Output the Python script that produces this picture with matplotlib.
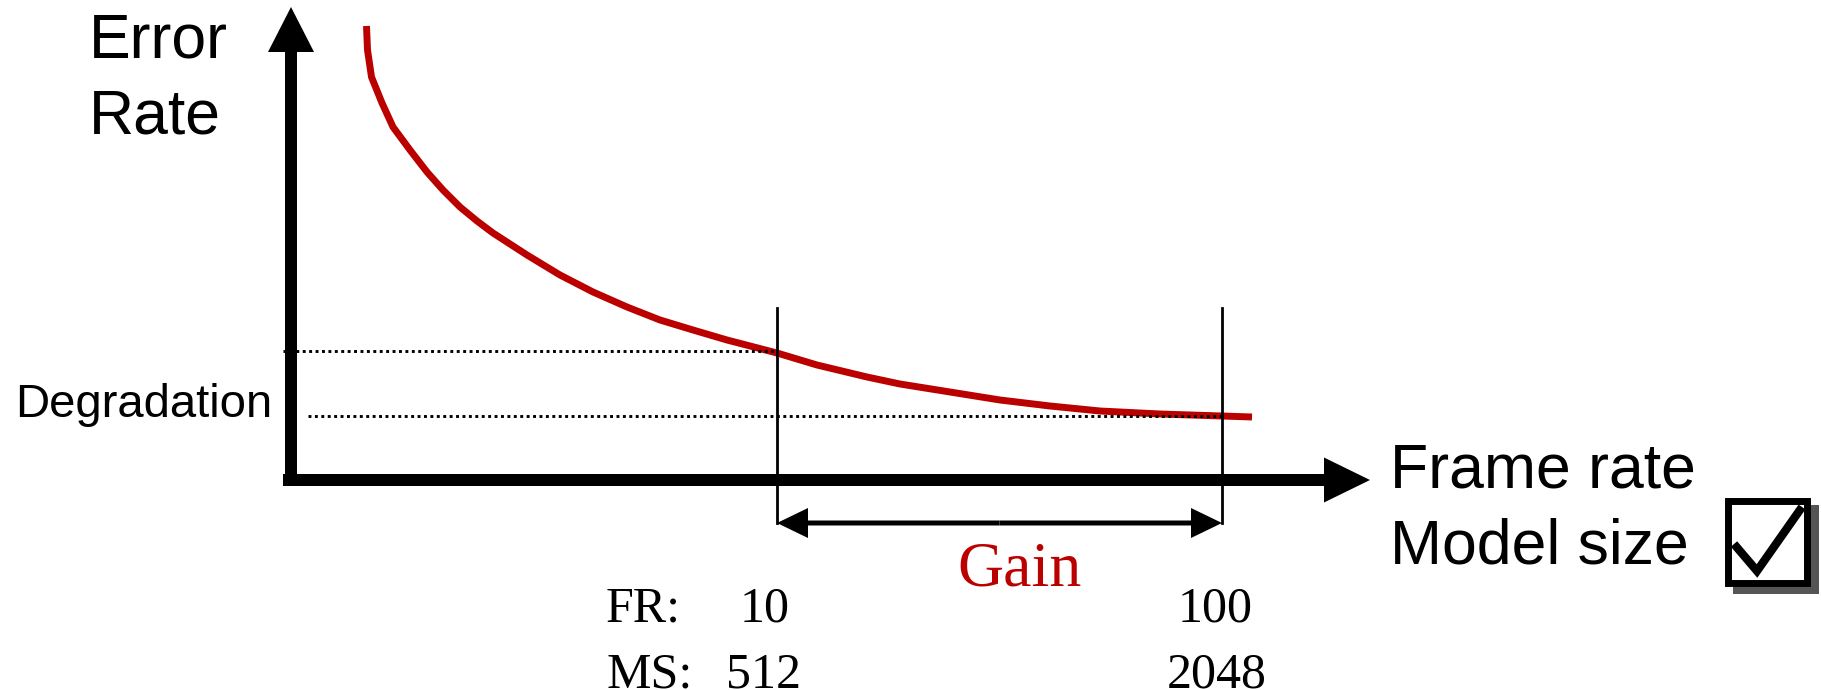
"""
Error rate vs. frame rate / model size trade-off sketch.
Redraws the slide diagram: decaying error curve, two operating points,
the degradation band between them and the gain along the x axis.
"""

import matplotlib
matplotlib.use("Agg")
import matplotlib.pyplot as plt
from matplotlib.patches import FancyArrow, Rectangle

# ---- data (arbitrary units, origin at the axes corner) ----
curve_x = [0.755, 0.765, 0.805, 0.91, 1.02, 1.19, 1.36, 1.52, 1.69, 1.86,
           2.02, 2.36, 2.69, 3.02, 3.36, 3.69, 4.02, 4.36, 4.86, 5.26,
           5.76, 6.09, 6.59, 7.09, 7.59, 8.09, 8.69, 9.31, 9.61]
curve_y = [4.54, 4.30, 4.03, 3.77, 3.53, 3.30, 3.08, 2.90, 2.73, 2.59,
           2.47, 2.25, 2.05, 1.88, 1.73, 1.60, 1.50, 1.40, 1.27, 1.15,
           1.03, 0.96, 0.88, 0.80, 0.74, 0.69, 0.66, 0.64, 0.63]

op_x = [4.86, 9.31]          # the two operating points (low / high setting)
op_err = [1.29, 0.64]        # error rate at those points
dot_start = [-0.08, 0.17]    # where the dotted guide lines begin

fr_labels = ["10", "100"]
ms_labels = ["512", "2048"]

RED = "#BB0000"
SANS = "Liberation Sans"
SERIF = "Liberation Serif"

fig = plt.figure(figsize=(18.21, 6.90), dpi=100)
ax = fig.add_axes([0, 0, 1, 1])
ax.set_xlim(-2.91, 15.30)
ax.set_ylim(-2.10, 4.80)
ax.axis("off")

# axes arrows
ax.add_patch(FancyArrow(0, -0.06, 0, 4.79, width=0.12, head_width=0.46,
                        head_length=0.45, length_includes_head=True,
                        color="black", lw=0, zorder=4))
ax.add_patch(FancyArrow(-0.08, 0, 10.87, 0, width=0.12, head_width=0.45,
                        head_length=0.46, length_includes_head=True,
                        color="black", lw=0, zorder=4))

# error curve
ax.plot(curve_x, curve_y, color=RED, lw=5, solid_capstyle="butt",
        solid_joinstyle="round", zorder=2)

# dotted guides and vertical markers
gain_y = -0.43
for xs, x, e in zip(dot_start, op_x, op_err):
    ax.plot([xs, x], [e, e], color="black", lw=2.1, linestyle=(0, (1, 1.2)), zorder=3)
    ax.plot([x, x], [1.72, gain_y], color="black", lw=2, zorder=3)

# double-headed gain arrow
mid = (op_x[0] + op_x[1]) / 2
for end in op_x:
    ax.add_patch(FancyArrow(mid, gain_y, end - mid, 0, width=0.05, head_width=0.30,
                            head_length=0.31, length_includes_head=True,
                            color="black", lw=0, zorder=3))

# axis labels
ax.text(-2.02, 4.23, "Error", fontsize=45, family=SANS, va="baseline")
ax.text(-2.02, 3.46, "Rate", fontsize=45, family=SANS, va="baseline")
ax.text(-2.76, 0.63, "Degradation", fontsize=34, family=SANS, va="baseline")
ax.text(10.99, -0.07, "Frame rate", fontsize=45, family=SANS, va="baseline")
ax.text(10.99, -0.84, "Model size", fontsize=45, family=SANS, va="baseline")

ax.text(7.29, -1.05, "Gain", fontsize=46, family=SERIF, color=RED,
        ha="center", va="baseline")

# operating point values
ax.text(3.15, -1.42, "FR:", fontsize=36, family=SERIF, va="baseline")
ax.text(3.15, -2.07, "MS:", fontsize=36, family=SERIF, va="baseline")
ax.text(4.99, -1.42, fr_labels[0], fontsize=36, family=SERIF, ha="right", va="baseline")
ax.text(5.10, -2.07, ms_labels[0], fontsize=36, family=SERIF, ha="right", va="baseline")
ax.text(9.62, -1.42, fr_labels[1], fontsize=36, family=SERIF, ha="right", va="baseline")
ax.text(9.76, -2.07, ms_labels[1], fontsize=36, family=SERIF, ha="right", va="baseline")

# checked box with drop shadow
ax.add_patch(Rectangle((14.42, -1.14), 0.86, 0.89, facecolor="#555555",
                       edgecolor="none", zorder=5))
ax.add_patch(Rectangle((14.375, -1.025), 0.79, 0.82, facecolor="white",
                       edgecolor="black", lw=5, joinstyle="miter", zorder=6))
ax.plot([14.43, 14.66, 15.11], [-0.64, -0.91, -0.27], color="black", lw=6,
        solid_joinstyle="miter", solid_capstyle="butt", zorder=7)

fig.savefig("out.png", dpi=100)
